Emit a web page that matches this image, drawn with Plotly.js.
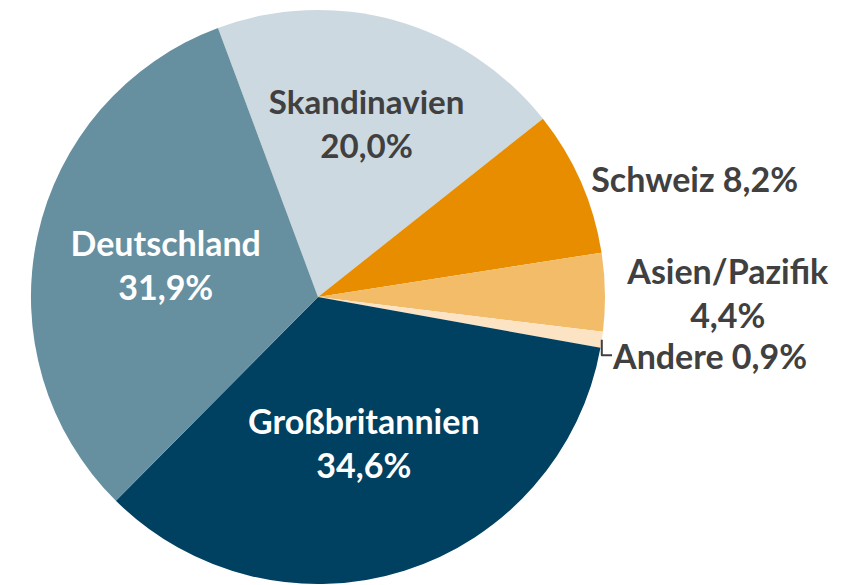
<!DOCTYPE html>
<html><head><meta charset="utf-8">
<script src="https://cdn.plot.ly/plotly-3.0.1.min.js"></script>
<style>html,body{margin:0;padding:0;background:#fff;}#chart{width:860px;height:585px;}</style>
</head><body><div id="chart"></div>
<script>
const regions = ["Skandinavien", "Schweiz", "Asien/Pazifik", "Andere", "Großbritannien", "Deutschland"];
const shares = [20.0, 8.2, 4.4, 0.9, 34.6, 31.9];
const labelTexts = ["Skandinavien<br>20,0%", "Schweiz 8,2%", "Asien/Pazifik<br>4,4%", "Andere 0,9%", "Großbritannien<br>34,6%", "Deutschland<br>31,9%"];
const colors = ["#CCD9E0", "#E98D00", "#F2BC68", "#FBE3C4", "#004060", "#668FA0"];
const textColors = ["#404040", "#404040", "#404040", "#404040", "#FFFFFF", "#FFFFFF"];
const positions = ["inside", "outside", "outside", "outside", "inside", "inside"];

const trace = {
  type: "pie",
  labels: regions,
  values: shares,
  text: labelTexts,
  textinfo: "text",
  texttemplate: "%{text}",
  textposition: positions,
  insidetextorientation: "horizontal",
  sort: false,
  direction: "clockwise",
  rotation: -20.4,
  marker: {colors: colors, line: {width: 0}},
  textfont: {family: "Lato", size: 34, color: textColors, weight: "bold"},
  outsidetextfont: {family: "Lato", size: 34, color: "#404040", weight: "bold"},
  domain: {x: [0.036, 0.7035], y: [0.0017, 0.983]},
  hoverinfo: "none",
  showlegend: false
};
Plotly.newPlot("chart", [trace], {
  width: 860, height: 585,
  margin: {l: 0, r: 0, t: 0, b: 0},
  paper_bgcolor: "#fff",
  showlegend: false
}, {staticPlot: true});
</script></body></html>
